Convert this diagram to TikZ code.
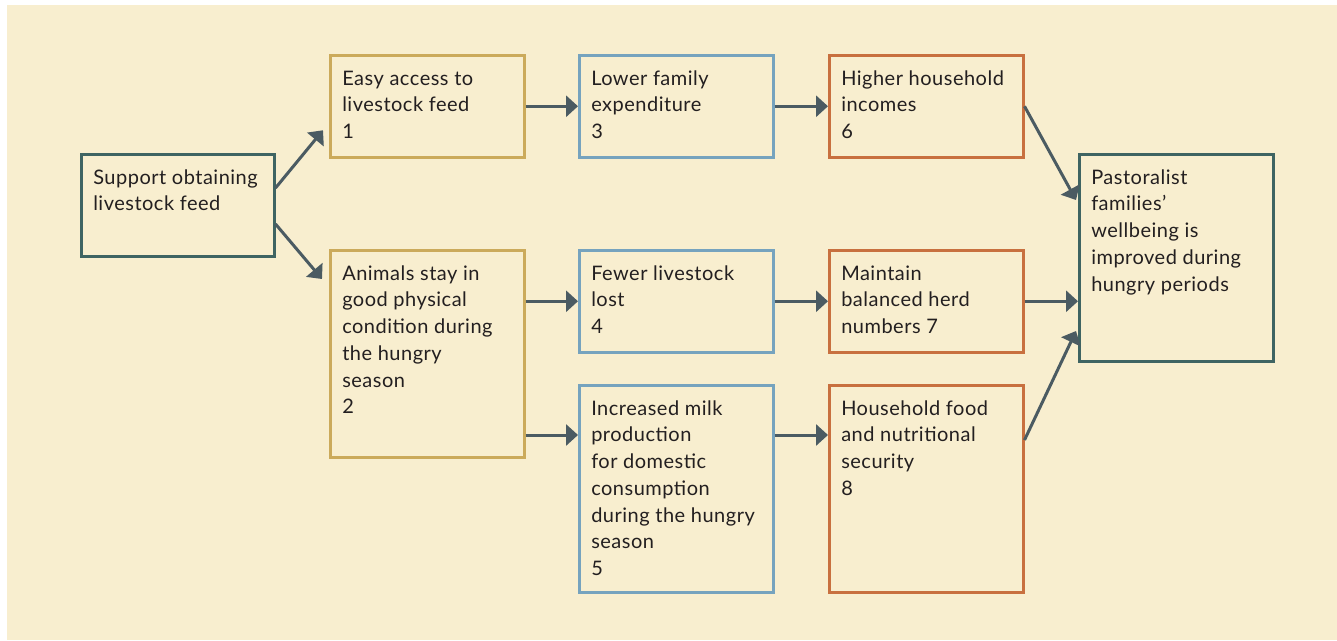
\documentclass[tikz,border=0pt]{standalone}
\usepackage{fontspec}
\setmainfont{Lato}[LetterSpace=2.5]
\usetikzlibrary{arrows.meta,calc}
\definecolor{bgcream}{HTML}{F8EECF}
\definecolor{goldc}{HTML}{CBAA5B}
\definecolor{bluec}{HTML}{76A3BE}
\definecolor{orangec}{HTML}{C8703F}
\definecolor{tealc}{HTML}{3F6462}
\definecolor{arrowc}{HTML}{4B5B62}
\definecolor{txtc}{HTML}{231F20}
\newcommand\boxtxt[3]{\parbox[c][#2][t]{#1}{\raggedright\leftskip=12pt\rule{0pt}{30pt}#3}}
\tikzset{
  boxst/.style={draw, line width=2.5pt, inner sep=0pt, anchor=north west, text=txtc,
    font=\fontsize{20}{26.7}\selectfont},
  endbox/.style={boxst, draw=tealc},
  goldbox/.style={boxst, draw=goldc},
  bluebox/.style={boxst, draw=bluec},
  orangebox/.style={boxst, draw=orangec},
  arr/.style={draw=arrowc, line width=3pt, -{Triangle[length=12pt,width=21pt]}}
}
\begin{document}
\begin{tikzpicture}[x=1pt,y=-1pt]
\useasboundingbox (0,0) rectangle (1337,640);
\fill[bgcream] (7,5) rectangle (1337,640);

\node[endbox] (s) at (80,153) {\boxtxt{193pt}{102pt}{Support obtaining\\livestock feed}};

\node[goldbox] (b1) at (329,54) {\boxtxt{194pt}{102pt}{Easy access to\\livestock feed\\1}};
\node[goldbox] (b2) at (329,249) {\boxtxt{194pt}{207pt}{Animals stay in\\good physical\\condition during\\the hungry\\season\\2}};

\node[bluebox] (b3) at (578,54) {\boxtxt{194pt}{102pt}{Lower family\\expenditure\\3}};
\node[bluebox] (b4) at (578,249) {\boxtxt{194pt}{102pt}{Fewer livestock\\lost\\4}};
\node[bluebox] (b5) at (578,384) {\boxtxt{194pt}{207pt}{Increased milk\\production\\for domestic\\consumption\\during the hungry\\season\\5}};

\node[orangebox] (b6) at (828,54) {\boxtxt{194pt}{102pt}{Higher household\\incomes\\6}};
\node[orangebox] (b7) at (828,249) {\boxtxt{194pt}{102pt}{Maintain\\balanced herd\\numbers 7}};
\node[orangebox] (b8) at (828,384) {\boxtxt{194pt}{207pt}{Household food\\and nutritional\\security\\8}};

\node[endbox] (f) at (1078,153) {\boxtxt{194pt}{207pt}{Pastoralist\\families'\\wellbeing is\\improved during\\hungry periods}};

\coordinate (m5) at ($(b5.north west)+(0,51)$);

\draw[arr] ($(s.north east)+(0,35)$) -- ($(b1.west)+(-6,24)$);
\draw[arr] ($(s.north east)+(0,71)$) -- ($(b2.north west)+(-7,30)$);

\draw[arr] (b1.east) -- (b3.west);
\draw[arr] (b2.east |- b4.west) -- (b4.west);
\draw[arr] (b2.east |- m5) -- (m5);

\draw[arr] (b3.east) -- (b6.west);
\draw[arr] (b4.east) -- (b7.west);
\draw[arr] (b5.east |- m5) -- (b8.west |- m5);

\draw[arr] (b6.east) -- ($(f.north west)+(-2,47)$);
\draw[arr] (b7.east) -- (f.west |- b7.east);
\draw[arr] ($(b8.north east)+(0,56)$) -- ($(f.north west)+(-2,178)$);
\end{tikzpicture}
\end{document}
